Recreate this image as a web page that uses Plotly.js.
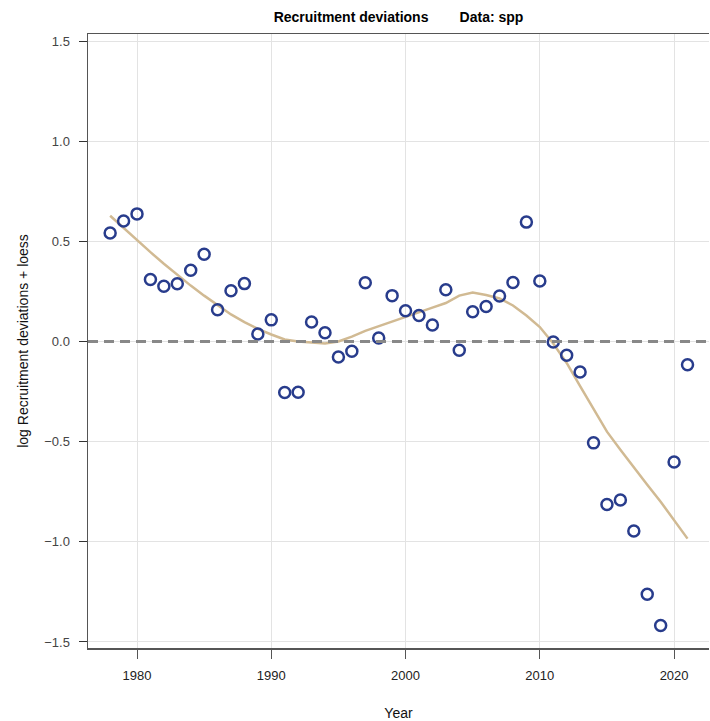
<!DOCTYPE html>
<html>
<head>
<meta charset="utf-8">
<script src="https://cdn.plot.ly/plotly-3.0.1.min.js"></script>
<style>html,body{margin:0;padding:0;background:#fff;}#chart{width:710px;height:721px;}</style>
</head>
<body>
<div id="chart"></div>
<script>
var years = [1978,1979,1980,1981,1982,1983,1984,1985,1986,1987,1988,1989,1990,1991,1992,1993,1994,1995,1996,1997,1998,1999,2000,2001,2002,2003,2004,2005,2006,2007,2008,2009,2010,2011,2012,2013,2014,2015,2016,2017,2018,2019,2020,2021];
var recdev = [0.542,0.602,0.637,0.309,0.276,0.288,0.356,0.436,0.158,0.253,0.289,0.037,0.108,-0.255,-0.253,0.097,0.044,-0.077,-0.049,0.293,0.017,0.229,0.154,0.130,0.082,0.258,-0.044,0.149,0.175,0.227,0.294,0.596,0.302,-0.003,-0.069,-0.152,-0.506,-0.814,-0.791,-0.946,-1.262,-1.418,-0.601,-0.116];
var loess = [0.628,0.567,0.504,0.446,0.388,0.333,0.279,0.229,0.180,0.135,0.097,0.063,0.035,0.010,0.000,-0.006,-0.010,0.000,0.024,0.053,0.077,0.100,0.122,0.147,0.169,0.192,0.229,0.245,0.232,0.215,0.180,0.130,0.072,-0.010,-0.107,-0.223,-0.340,-0.450,-0.540,-0.630,-0.715,-0.800,-0.890,-0.984];
var yTicks = [-1.5,-1.0,-0.5,0.0,0.5,1.0,1.5];
var xTicks = [1980,1990,2000,2010,2020];

var traces = [
  {x: years, y: loess, type: 'scatter', mode: 'lines',
   line: {color: '#D1BA93', width: 2.5}, hoverinfo: 'skip'},
  {x: years, y: recdev, type: 'scatter', mode: 'markers',
   marker: {symbol: 'circle-open', size: 11, color: '#283C8C', line: {width: 2.5, color: '#283C8C'}}}
];

var layout = {
  width: 710, height: 721,
  margin: {l: 88, r: 1, t: 34, b: 73},
  paper_bgcolor: '#fff', plot_bgcolor: '#fff',
  showlegend: false,
  font: {family: 'Liberation Sans, Arial, sans-serif', size: 13, color: '#333'},
  title: {text: '<b>Recruitment deviations\u00A0\u00A0\u00A0\u00A0\u00A0\u00A0\u00A0\u00A0Data: spp</b>',
          font: {size: 14, color: '#000'}, x: 0.5, xref: 'paper', xanchor: 'center', y: 0.976, yanchor: 'middle'},
  xaxis: {range: [1976.35, 2022.6], tickvals: xTicks, ticks: 'outside', ticklen: 9, tickwidth: 1, tickcolor: '#555',
          showline: true, linecolor: '#555', linewidth: 1.5, mirror: true,
          showgrid: true, gridcolor: '#e3e3e3', gridwidth: 1, zeroline: false,
          tickfont: {size: 13, color: '#222'}, ticklabelstandoff: 6,
          title: {text: 'Year', font: {size: 14, color: '#111'}, standoff: 26}},
  yaxis: {range: [-1.53, 1.535], tickvals: yTicks, tickformat: '.1f', ticks: 'outside', ticklen: 8, tickwidth: 1, tickcolor: '#333',
          showline: true, linecolor: '#555', linewidth: 1.5,
          showgrid: true, gridcolor: '#e3e3e3', gridwidth: 1, zeroline: false,
          tickfont: {size: 13, color: '#444'}, ticklabelstandoff: 6,
          title: {text: 'log Recruitment deviations + loess', font: {size: 14, color: '#111'}, standoff: 12}},
  shapes: [
    {type: 'line', xref: 'paper', x0: 0, x1: 1, yref: 'y', y0: 0, y1: 0,
     line: {color: '#888', width: 3, dash: '10px,6px'}, layer: 'above'}
  ]
};

Plotly.newPlot('chart', traces, layout, {displayModeBar: false, staticPlot: true});
</script>
</body>
</html>
